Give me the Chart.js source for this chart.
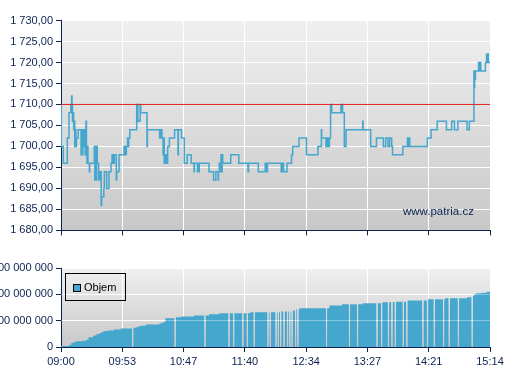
<!DOCTYPE html>
<html>
<head>
<meta charset="utf-8">
<script src="https://cdn.jsdelivr.net/npm/chart.js@4.4.1/dist/chart.umd.min.js"></script>
<style>
html,body{margin:0;padding:0;background:#fff;}
body{width:507px;height:380px;position:relative;overflow:hidden;font-family:"Liberation Sans",Arial,sans-serif;}
#priceChart{position:absolute;left:0;top:0;}
#volChart{position:absolute;left:0;top:240px;}
.legend{position:absolute;left:65px;top:273px;width:59px;height:26px;border:1px solid #000;}
.legend .sw{position:absolute;left:7px;top:10px;width:6px;height:6px;border:1px solid #000;background:#45a6ce;}
.legend .lb{position:absolute;left:18px;top:7px;font-size:11px;line-height:13px;color:#000;white-space:nowrap;}
.watermark{position:absolute;left:403px;top:204.5px;font-size:11.5px;line-height:13px;color:#0c2352;white-space:nowrap;}
</style>
</head>
<body>
<canvas id="priceChart" width="507" height="240"></canvas>
<canvas id="volChart" width="507" height="140"></canvas>
<div class="watermark">www.patria.cz</div>
<div class="legend"><span class="sw"></span><span class="lb">Objem</span></div>
<script>
// ---- data (minutes after 09:00) ----
const sessionMinutes = 374;
const timeLabels = ['09:00','09:53','10:47','11:40','12:34','13:27','14:21','15:14'];
const priceTickValues = [1680,1685,1690,1695,1700,1705,1710,1715,1720,1725,1730];
const priceTickLabels = ['1 680,00','1 685,00','1 690,00','1 695,00','1 700,00','1 705,00','1 710,00','1 715,00','1 720,00','1 725,00','1 730,00'];
const volTickValues = [0,100000000,200000000,300000000];
const volTickLabels = ['0','100 000 000','200 000 000','300 000 000'];
const referencePrice = 1710;

const priceTimes = [0,0.3,2,5.5,7,8.5,9,9.3,9.6,10,10.5,11,11.5,12,12.5,13,13.5,15,17.5,18,18.5,19,19.5,20,21,21.5,21.8,22.2,22.6,23,23.5,24.7,25,
29,29.5,30,30.5,31,31.6,32.8,33.3,33.8,34.3,35,35.4,37.3,37.8,39.8,41.8,43.6,44.5,45,45.5,46,46.5,48.2,48.5,50.6,55,55.5,56,56.5,57,58,58.5,59,60,
66,67,69,69.5,75,75.3,86,86.5,87,87.5,88,89,89.5,90,90.5,91,91.5,92,93,94.5,99,102,102.3,105,107.5,110,113.5,116,116.3,119,119.5,120,120.5,
129,133,135,137,137.3,138,139,139.5,140,140.5,141,148,155,163,163.5,172,178,178.5,179,179.5,180,192,192.5,193,193.5,194,197,201,202,207.5,
214,224,227,227.3,231,232,232.5,233,233.5,234,235,236,244,244.5,245,245.5,247,248.5,263,263.3,270,275,281,283,285,286.5,288.3,289,298,
302,302.5,303,304,319.4,322.6,328,336,340.6,343,346,354,356,360,360.3,360.6,361,361.3,364,364.5,365,366,370,371,371.5,372,372.5,374];
const priceValues = [1710,1700,1696,1702,1708,1710,1708,1712,1710,1706,1708,1704,1706,1700,1704,1700,1702,1704,1698,1704,1698,1704,1700,1704,1698,1700,1706,1698,1696,1700,1696,1694,1696,
1700,1692,1700,1692,1700,1696,1692,1694,1692,1694,1686,1688,1690,1694,1690,1694,1696,1698,1696,1698,1696,1698,1692,1694,1698,1700,1698,1700,1698,1700,1702,1700,1702,1704,
1710,1706,1710,1708,1700,1704,1702,1704,1702,1704,1702,1698,1702,1696,1698,1696,1698,1696,1700,1702,1704,1698,1704,1702,1696,1698,1696,1694,1696,1694,1696,1694,1696,
1694,1692,1694,1692,1694,1696,1694,1698,1694,1698,1696,1698,1696,1694,1696,1694,1696,1694,1696,1694,1696,1694,1696,1694,1696,1694,1696,1698,1700,1702,
1698,1700,1704,1702,1700,1702,1700,1702,1700,1702,1710,1708,1710,1708,1710,1708,1700,1704,1706,1704,1700,1702,1700,1702,1700,1702,1700,1698,1700,
1702,1700,1702,1700,1702,1704,1706,1704,1706,1704,1706,1704,1706,1718,1714,1718,1716,1718,1720,1718,1720,1718,1720,1722,1720,1722,1720,1720];

// cumulative traded volume (changes) and minutes where no bar is shown
const volTimes = [0,7,9,11,13,18,22,24,28,31,34,36,38,41,46,52,63,66,69,74,86,89,91,100,105,116,129,138,165,191,201,204,208,234,245,263,280,290,301,319,335,354,359,360,362,367,371];
const volValues = [4e6,8e6,15e6,19e6,21.5e6,24e6,28e6,37e6,44e6,49e6,54e6,58e6,61e6,63e6,66e6,70e6,73e6,77e6,81e6,85e6,90e6,95e6,109e6,113e6,116e6,120e6,124e6,128e6,132e6,135e6,139e6,143e6,147e6,158e6,162e6,166e6,170e6,172e6,177e6,181e6,185e6,189e6,194e6,200e6,204e6,206e6,210e6];
const volGapMinutes = [62,99,125,146,150,158,162,168,180,182,187,189,191,194,197,199,201,204,206,231,251,258,275,279,285,288,291,298,301,315,319,325,333,338,346,358];

// ---- styling ----
const NAVY = '#0c2352';
const BLUE = '#45a6ce';
Chart.defaults.font.family = '"Liberation Sans", Arial, sans-serif';
Chart.defaults.font.size = 11;
Chart.defaults.color = NAVY;

const xTickValues = timeLabels.map((_, i) => i * sessionMinutes / (timeLabels.length - 1));

const plotBg = {
  id: 'plotBg',
  beforeDraw(chart) {
    const {ctx, chartArea: a} = chart;
    const g = ctx.createLinearGradient(0, a.top, 0, a.bottom);
    g.addColorStop(0, '#f0f0f0');
    g.addColorStop(1, '#c8c8c8');
    ctx.save();
    ctx.fillStyle = g;
    ctx.fillRect(a.left, a.top, a.right - a.left, a.bottom - a.top);
    ctx.restore();
  }
};

const gridOverlay = {
  id: 'gridOverlay',
  afterDatasetsDraw(chart) {
    const {ctx, chartArea: a} = chart;
    const ys = chart.scales.y;
    ctx.save();
    ctx.strokeStyle = 'rgba(255,255,255,0.35)';
    ctx.lineWidth = 1;
    ys.ticks.forEach(t => {
      const p = Math.round(ys.getPixelForValue(t.value) - 0.5) + 0.5;
      if (p <= a.top + 1 || p >= a.bottom - 1) return;
      ctx.beginPath(); ctx.moveTo(a.left, p); ctx.lineTo(a.right, p); ctx.stroke();
    });
    ctx.restore();
  }
};

function xScale(showLabels, h) {
  return {
    type: 'linear', min: 0, max: sessionMinutes, offset: false,
    afterBuildTicks(s) { s.ticks = xTickValues.map(v => ({value: v})); },
    afterFit(s) { s.height = h; },
    grid: {color: '#ffffff', lineWidth: 1, tickColor: NAVY, tickLength: 5, offset: false, drawTicks: true},
    border: {color: NAVY, width: 1},
    ticks: {display: showLabels, padding: 3, maxRotation: 0, minRotation: 0, autoSkip: false, color: NAVY,
            callback: (v, i) => timeLabels[i]}
  };
}

function yScale(min, max, vals, labels) {
  return {
    type: 'linear', min: min, max: max,
    afterBuildTicks(s) { s.ticks = vals.map(v => ({value: v})); },
    afterFit(s) { s.width = 61; },
    grid: {color: '#ffffff', lineWidth: 1, tickColor: NAVY, tickLength: 5, drawTicks: true},
    border: {color: NAVY, width: 1},
    ticks: {padding: 3, color: NAVY, autoSkip: false, callback: (v, i) => labels[i]}
  };
}

const common = {
  responsive: false, animation: false, events: [],
  plugins: {legend: {display: false}, tooltip: {enabled: false}}
};

new Chart(document.getElementById('priceChart'), {
  type: 'line',
  data: {
    datasets: [
      {data: [{x: 0, y: referencePrice}, {x: sessionMinutes, y: referencePrice}],
       borderColor: '#e3231f', borderWidth: 1, pointRadius: 0, order: 0},
      {data: priceTimes.map((t, i) => ({x: t, y: priceValues[i]})),
       stepped: 'before', borderColor: BLUE, borderWidth: 1.5, pointRadius: 0, order: 1}
    ]
  },
  options: Object.assign({}, common, {
    layout: {padding: {top: 20.5, right: 17, left: 0, bottom: 0}},
    scales: {
      x: xScale(false, 9.5),
      y: yScale(1680, 1730, priceTickValues, priceTickLabels)
    }
  }),
  plugins: [plotBg]
});

// cumulative volume as stepped runs, broken at the minutes with no bar
function volumeAt(m) {
  let v = volValues[0];
  for (let i = 0; i < volTimes.length; i++) if (volTimes[i] <= m) v = volValues[i];
  return v;
}
const volArea = [];
let runStart = 0;
const runs = [];
volGapMinutes.forEach(g => { runs.push([runStart, g]); runStart = g + 1; });
runs.push([runStart, sessionMinutes]);
runs.forEach(([s, e]) => {
  if (e <= s) return;
  volArea.push({x: s, y: volumeAt(s)});
  volTimes.forEach((t, i) => { if (t > s && t < e) volArea.push({x: t, y: volValues[i]}); });
  volArea.push({x: e, y: volumeAt(e - 0.001)});
  volArea.push({x: e + 0.5, y: null});
});

new Chart(document.getElementById('volChart'), {
  type: 'line',
  data: {
    datasets: [{
      label: 'Objem', data: volArea, stepped: 'before', fill: 'origin', spanGaps: false,
      backgroundColor: BLUE, borderColor: BLUE, borderWidth: 0, pointRadius: 0
    }]
  },
  options: Object.assign({}, common, {
    layout: {padding: {top: 28, right: 17, left: 0, bottom: 0}},
    scales: {
      x: xScale(true, 33),
      y: yScale(0, 300000000, volTickValues, volTickLabels)
    }
  }),
  plugins: [plotBg, gridOverlay]
});
</script>
</body>
</html>
